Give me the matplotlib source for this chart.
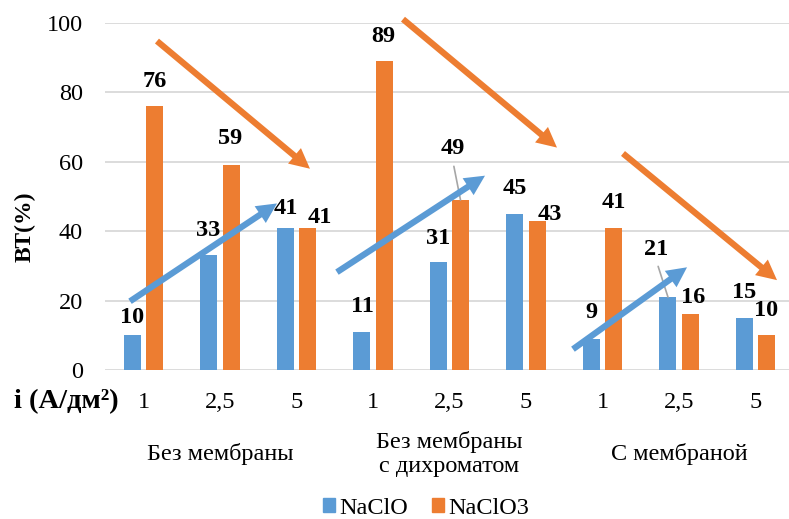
import matplotlib
matplotlib.use("Agg")
import matplotlib.pyplot as plt
from matplotlib.patches import Patch

plt.rcParams["font.family"] = ["Liberation Serif", "DejaVu Serif"]

# ---- data ----
current_density = ["1", "2,5", "5", "1", "2,5", "5", "1", "2,5", "5"]
groups = ["Без мембраны", "Без мембраны\nс дихроматом", "С мембраной"]
naclo = [10, 33, 41, 11, 31, 45, 9, 21, 15]
naclo3 = [76, 59, 41, 89, 49, 43, 41, 16, 10]
series_names = ["NaClO", "NaClO3"]

BLUE = "#5B9BD5"
ORANGE = "#ED7D31"
GRID = "#d9d9d9"
FS = 17.5

# label offsets (pixels) from the top centre of each bar
blue_off = [(0, 18), (-1, 25), (0, 19), (0, 25), (0, 24), (0, 25), (0, 26), (-12, 48), (0, 25)]
orange_off = [(0, 25), (-1, 27), (12, 10), (-1, 25), (-8, 51), (13, 6), (0, 25), (3, 17), (0, 25)]
leader_blue = {7}
leader_orange = {4}

# trend arrows: (x0, y0, x1, y1, colour) in data units
trends = [
    (0.176, 94.8, 2.176, 58.0, ORANGE),
    (-0.176, 19.8, 1.745, 48.0, BLUE),
    (3.392, 101.1, 5.405, 64.1, ORANGE),
    (2.529, 28.2, 4.464, 56.0, BLUE),
    (6.268, 62.4, 8.281, 25.9, ORANGE),
    (5.614, 6.0, 7.105, 29.6, BLUE),
]

W, H = 789, 519
fig = plt.figure(figsize=(W / 100, H / 100), dpi=100)
ax_l, ax_r, ax_t, ax_b = 105.25, 789, 23, 370
ax = fig.add_axes([ax_l / W, 1 - ax_b / H, (ax_r - ax_l) / W, (ax_b - ax_t) / H])

n = len(naclo)
x = list(range(n))
bw = 0.222
off = 0.144
xb = [i - off for i in x]
xo = [i + off for i in x]
ax.bar(xb, naclo, width=bw, color=BLUE, zorder=3)
ax.bar(xo, naclo3, width=bw, color=ORANGE, zorder=3)

ax.set_ylim(0, 100)
ax.set_xlim(-0.5, -0.5 + (ax_r - ax_l) / 76.5)
ax.set_yticks(range(0, 101, 20))
ax.set_yticklabels([str(v) for v in range(0, 101, 20)], fontsize=FS)
ax.tick_params(axis="y", length=0, pad=16)
ax.set_xticks([])
ax.grid(axis="y", color=GRID, lw=1.3, zorder=0)
for s in ax.spines.values():
    s.set_visible(False)


def value_label(xv, v, dxy, leader):
    kw = {}
    if leader:
        kw["arrowprops"] = dict(arrowstyle="-", color="#a6a6a6", lw=1.2,
                                shrinkA=3, shrinkB=0, relpos=(0.5, 0.0))
    ax.annotate(str(v), xy=(xv, v), xytext=dxy, textcoords="offset pixels",
                ha="center", va="center", fontsize=FS, fontweight="bold",
                zorder=5, annotation_clip=False, **kw)


for i in x:
    value_label(xb[i], naclo[i], blue_off[i], i in leader_blue)
    value_label(xo[i], naclo3[i], orange_off[i], i in leader_orange)

for x0, y0, x1, y1, c in trends:
    ax.annotate("", xy=(x1, y1), xytext=(x0, y0), annotation_clip=False,
                arrowprops=dict(arrowstyle="simple,head_length=1.45,head_width=1.45,tail_width=0.45",
                                mutation_scale=10, color=c, lw=0, shrinkA=0, shrinkB=0),
                zorder=6)

# category axis labels
for i, lab in enumerate(current_density):
    ax.annotate(lab, xy=(i, 0), xycoords=("data", "axes fraction"),
                xytext=(0, -33), textcoords="offset pixels",
                ha="center", va="center", fontsize=FS, annotation_clip=False)
for g, lab in enumerate(groups):
    ax.annotate(lab, xy=(3 * g + 1, 0), xycoords=("data", "axes fraction"),
                xytext=(0, -84), textcoords="offset pixels",
                ha="center", va="center", fontsize=FS, linespacing=1.15,
                annotation_clip=False)

fig.text(66 / W, 1 - 402 / H, "i (А/дм²)", ha="center", va="center",
         fontsize=20.5, fontweight="bold")
fig.text(25 / W, 1 - 227 / H, "ВТ(%)", ha="center", va="center",
         rotation=90, fontsize=17, fontweight="bold")

handles = [Patch(color=BLUE), Patch(color=ORANGE)]
fig.legend(handles, series_names, loc="center", bbox_to_anchor=(426 / W, 1 - 508 / H),
           ncol=2, frameon=False, fontsize=FS, handlelength=0.5, handleheight=0.5,
           handletextpad=0.15, columnspacing=1.0, borderpad=0)

fig.savefig("out.png", dpi=100)
